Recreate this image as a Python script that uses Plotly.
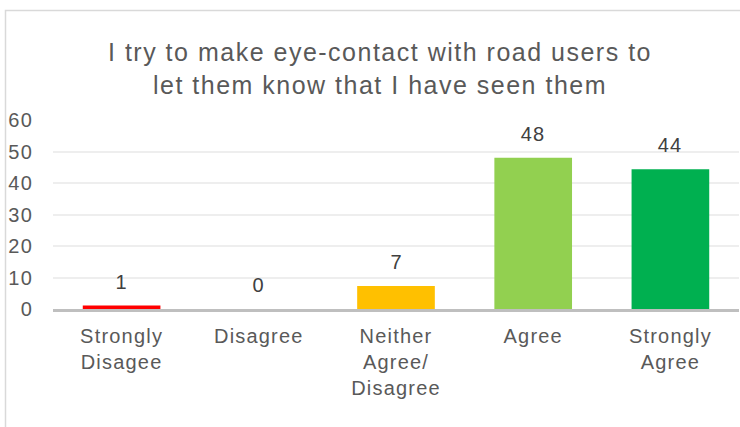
import plotly.graph_objects as go

categories = ["Strongly<br>Disagee", "Disagree", "Neither<br>Agree/<br>Disagree", "Agree", "Strongly<br>Agree"]
values = [1.1, 0, 7.3, 48.0, 44.4]
colors = ["#FF0000", "#A5A5A5", "#FFC000", "#92D050", "#00B050"]
y_ticks = [0, 10, 20, 30, 40, 50, 60]
title_text = "I try to make eye-contact with road users to<br>let them know that I have seen them"

FONT = "Liberation Sans, Arial, sans-serif"
TXT = "#595959"

fig = go.Figure()
fig.add_trace(go.Bar(
    x=categories, y=values, marker=dict(color=colors, line=dict(width=0)),
    hoverinfo="skip", showlegend=False,
))

for c, v in zip(categories, values):
    fig.add_annotation(x=c, y=v, text=f"{v:.0f}", showarrow=False,
                       yanchor="bottom", yshift=11,
                       font=dict(family=FONT, size=20, color="#404040"))

fig.update_layout(
    width=740, height=427,
    margin=dict(l=53, r=1, t=120, b=118),
    paper_bgcolor="white", plot_bgcolor="white",
    bargap=0.434,
    title=dict(text=title_text, x=380/740, xref="container", xanchor="center",
               y=1 - 61/427, yref="container", yanchor="middle",
               font=dict(family=FONT, size=25, color=TXT)),
    font=dict(family=FONT, color=TXT),
    xaxis=dict(showline=True, linecolor="#BFBFBF", linewidth=3, ticks="",
               tickfont=dict(size=20, color=TXT), ticklabelstandoff=7,
               showgrid=False, zeroline=False, fixedrange=True),
    yaxis=dict(range=[0, 60], tickvals=y_ticks, showgrid=True, gridcolor="#EEEEEE",
               gridwidth=1.5, zeroline=False, showline=False, ticks="",
               tickfont=dict(size=20, color=TXT), ticklabelstandoff=19, fixedrange=True),
    shapes=[dict(type="rect", xref="paper", yref="paper",
                 x0=(5.5 - 53) / 686, x1=1.05, y0=-0.8, y1=(309 - 10.5) / 189,
                 line=dict(color="#D9D9D9", width=1.5), fillcolor="rgba(0,0,0,0)",
                 layer="below")],
)

post = (
    "document.body.style.margin='0';document.body.style.overflow='hidden';"
    "document.querySelectorAll('.main-svg text').forEach(function(t){"
    "t.style.letterSpacing = t.classList.contains('gtitle') ? '1.5px' : '1.2px';});"
)
fig.write_html("out.html", config={"displayModeBar": False}, post_script=post)
